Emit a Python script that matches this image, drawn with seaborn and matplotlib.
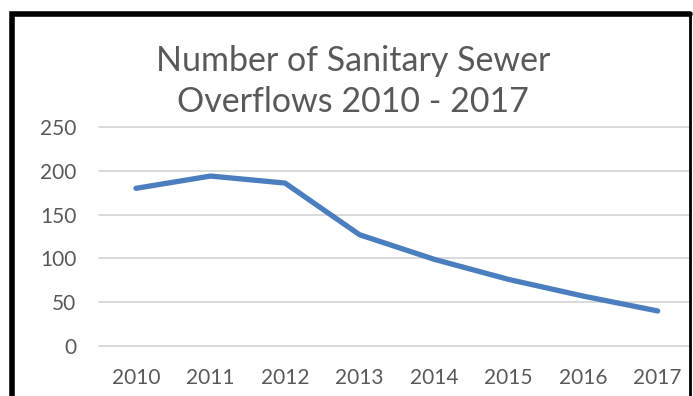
import pandas as pd
import matplotlib.pyplot as plt
import seaborn as sns
from matplotlib.lines import Line2D

years = ['2010', '2011', '2012', '2013', '2014', '2015', '2016', '2017']
overflows = [180, 194, 186, 127, 99, 76, 57, 40]
y_ticks = [0, 50, 100, 150, 200, 250]

df = pd.DataFrame({'Year': years, 'Overflows': overflows})

sns.set_theme(style="white")
plt.rcParams['font.family'] = ['Lato', 'DejaVu Sans']

fig = plt.figure(figsize=(6.93, 3.96), dpi=100)
ax = fig.add_axes([98.7 / 693, 50 / 396, (689 - 98.7) / 693, 219 / 396])

ax.set_xlim(-0.5, 7.42)
ax.set_ylim(0, 250)
ax.set_yticks(y_ticks)
for v in y_ticks:
    ax.axhline(v, color='#d9d9d9', linewidth=1.4, zorder=0, clip_on=False)

sns.lineplot(data=df, x='Year', y='Overflows', ax=ax, color='#4a7ebf',
             linewidth=3.8, solid_capstyle='round', solid_joinstyle='round', sort=False)

for s in ax.spines.values():
    s.set_visible(False)
ax.set_xlabel('')
ax.set_ylabel('')
ax.tick_params(axis='both', length=0, labelsize=15, labelcolor='#595959')
ax.tick_params(axis='y', pad=16)
ax.tick_params(axis='x', pad=16)

# va='baseline' anchors the last line of a multi-line text
fig.text(353 / 693, 1 - 112 / 396, 'Number of Sanitary Sewer\nOverflows 2010 - 2017',
         ha='center', va='baseline', fontsize=24.5, color='#595959', linespacing=1.33)

# black frame around the chart (cut off at the bottom): thick left/top, thin right
top = 1 - 13.5 / 396
left = 11.5 / 693
right = 689.5 / 693
fig.add_artist(Line2D([left, left, right], [0, top, top], color='black', linewidth=4,
                      solid_joinstyle='miter', transform=fig.transFigure))
fig.add_artist(Line2D([right, right], [0, top], color='black', linewidth=2,
                      transform=fig.transFigure))

fig.savefig('out.png', dpi=100)
